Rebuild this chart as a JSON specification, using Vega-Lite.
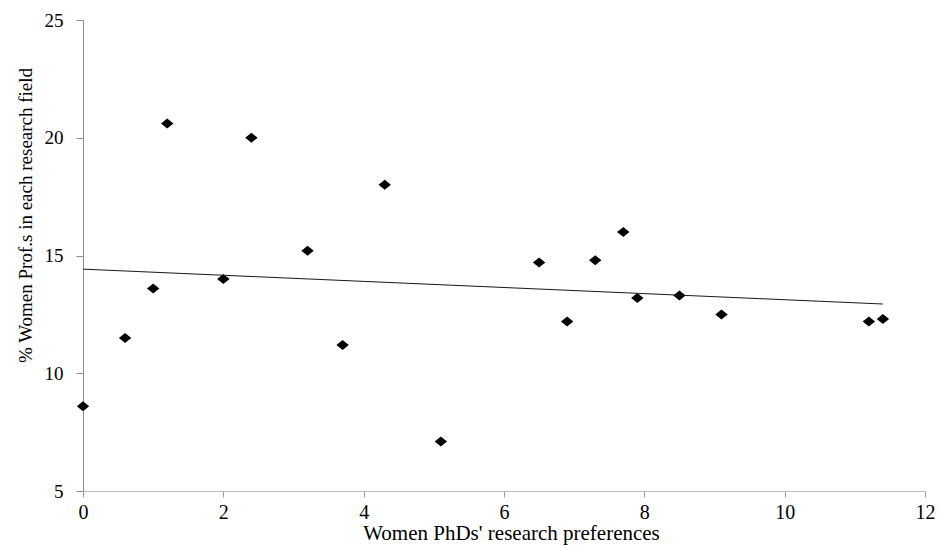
{
  "$schema": "https://vega.github.io/schema/vega-lite/v6.json",
  "autosize": {"type": "none"},
  "width": 842,
  "height": 471,
  "padding": {"left": 83, "top": 20, "right": 14, "bottom": 55},
  "background": "white",
  "config": {
    "view": {"stroke": null},
    "font": "Liberation Serif"
  },
  "data": {
    "values": [
      {"x": 0.0, "y": 8.6},
      {"x": 0.6, "y": 11.5},
      {"x": 1.0, "y": 13.6},
      {"x": 1.2, "y": 20.6},
      {"x": 2.0, "y": 14.0},
      {"x": 2.4, "y": 20.0},
      {"x": 3.2, "y": 15.2},
      {"x": 3.7, "y": 11.2},
      {"x": 4.3, "y": 18.0},
      {"x": 5.1, "y": 7.1},
      {"x": 6.5, "y": 14.7},
      {"x": 6.9, "y": 12.2},
      {"x": 7.3, "y": 14.8},
      {"x": 7.7, "y": 16.0},
      {"x": 7.9, "y": 13.2},
      {"x": 8.5, "y": 13.3},
      {"x": 9.1, "y": 12.5},
      {"x": 11.2, "y": 12.2},
      {"x": 11.4, "y": 12.3}
    ]
  },
  "encoding": {
    "x": {
      "field": "x",
      "type": "quantitative",
      "scale": {"domain": [0, 12], "nice": false, "zero": false},
      "axis": {
        "title": "Women PhDs' research preferences",
        "values": [0, 2, 4, 6, 8, 10, 12],
        "grid": false,
        "domainColor": "#bdbdbd",
        "tickColor": "#9a9a9a",
        "tickSize": 6,
        "labelFontSize": 20,
        "labelColor": "#000000",
        "labelPadding": 5,
        "labelFlush": false,
        "labelOverlap": false,
        "labelFont": "Liberation Serif",
        "titleFont": "Liberation Serif",
        "titleFontSize": 21,
        "titleFontWeight": "normal",
        "titleColor": "#000000",
        "titleX": 428,
        "titleY": 42,
        "titleBaseline": "middle",
        "titleAlign": "center"
      }
    },
    "y": {
      "field": "y",
      "type": "quantitative",
      "scale": {"domain": [5, 25], "nice": false, "zero": false},
      "axis": {
        "title": "% Women Prof.s in each research field",
        "values": [5, 10, 15, 20, 25],
        "grid": false,
        "domainColor": "#8c8c8c",
        "tickColor": "#8c8c8c",
        "tickSize": 7,
        "labelFontSize": 19,
        "labelColor": "#000000",
        "labelPadding": 13,
        "labelFlush": false,
        "labelOverlap": false,
        "labelFont": "Liberation Serif",
        "titleFont": "Liberation Serif",
        "titleFontSize": 19,
        "titleFontWeight": "normal",
        "titleColor": "#000000",
        "titleAngle": 270,
        "titleX": -58,
        "titleY": 195,
        "titleBaseline": "middle",
        "titleAlign": "center"
      }
    }
  },
  "layer": [
    {
      "mark": {
        "type": "point",
        "shape": "M-1.24,0L0,-1L1.24,0L0,1Z",
        "filled": true,
        "color": "#000000",
        "opacity": 1,
        "size": 100
      }
    },
    {
      "transform": [{"regression": "y", "on": "x"}],
      "mark": {"type": "line", "color": "#1a1a1a", "strokeWidth": 1}
    }
  ]
}
